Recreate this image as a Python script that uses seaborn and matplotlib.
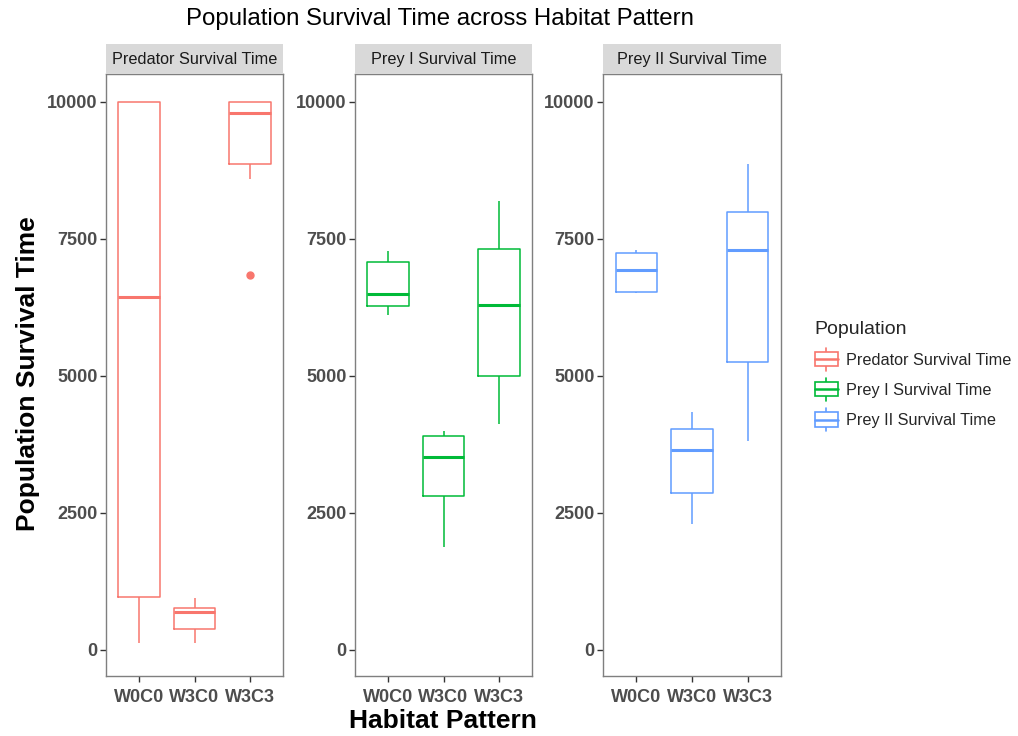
import numpy as np
import pandas as pd
import seaborn as sns
import matplotlib.pyplot as plt
from matplotlib.legend_handler import HandlerBase
from matplotlib.patches import Rectangle
from matplotlib.lines import Line2D

sns.set_theme(style="white")
plt.rcParams['font.family'] = ['Liberation Sans', 'DejaVu Sans']

# ---- data (each group reproduces its box stats) ----
habitats = ["W0C0", "W3C0", "W3C3"]
populations = ["Predator Survival Time", "Prey I Survival Time", "Prey II Survival Time"]
colors = ["#F8766D", "#00BA38", "#619CFF"]
y_ticks = [0, 2500, 5000, 7500, 10000]

pred_w0c0 = [126, 959, 6446, 10000, 10000]
pred_w3c0 = [126, 387, 691, 758, 952]
pred_w3c3 = [6833, 8602, 8862, 9300, 9807, 9900, 10000, 10000, 10000]

prey1_w0c0 = [6112, 6268, 6491, 7078, 7279]
prey1_w3c0 = [1874, 2810, 3509, 3896, 3993]
prey1_w3c3 = [4126, 5004, 6297, 7323, 8193]

prey2_w0c0 = [6506, 6535, 6937, 7249, 7294]
prey2_w3c0 = [2290, 2855, 3643, 4037, 4335]
prey2_w3c3 = [3814, 5257, 7294, 7993, 8870]

groups = {
    populations[0]: [pred_w0c0, pred_w3c0, pred_w3c3],
    populations[1]: [prey1_w0c0, prey1_w3c0, prey1_w3c3],
    populations[2]: [prey2_w0c0, prey2_w3c0, prey2_w3c3],
}
rows = []
for pop, lists in groups.items():
    for hab, vals in zip(habitats, lists):
        for v in vals:
            rows.append({"Population": pop, "Habitat": hab, "Time": v})
df = pd.DataFrame(rows)

# ---- layout ----
W, H = 1018, 736
fig = plt.figure(figsize=(W / 100, H / 100), dpi=100)
panel_x = [(106, 283), (355, 532), (603, 781)]
top, bottom = 74, 676
strip_top = 44
tick_color = "#4D4D4D"
border_color = "#7F7F7F"

for i, pop in enumerate(populations):
    x0, x1 = panel_x[i]
    ax = fig.add_axes([x0 / W, 1 - bottom / H, (x1 - x0) / W, (bottom - top) / H])
    sub = df[df["Population"] == pop]
    sns.boxplot(data=sub, x="Habitat", y="Time", order=habitats, ax=ax,
                width=0.75, whis=1.5, fill=False, color=colors[i], linewidth=1.1,
                showcaps=False,
                medianprops=dict(linewidth=2.2, color=colors[i]),
                flierprops=dict(marker="o", markerfacecolor=colors[i],
                                markeredgecolor=colors[i], markersize=5))
    ax.set_xlim(-0.6, 2.6)
    ax.set_ylim(-480, 10510)
    ax.set_yticks(y_ticks)
    ax.set_yticklabels([str(t) for t in y_ticks])
    ax.set_xlabel("")
    ax.set_ylabel("")
    ax.tick_params(axis="both", which="both", length=4, width=1, color="#333333",
                   labelsize=13, labelcolor=tick_color, pad=2, left=True, bottom=True)
    ax.tick_params(axis="x", pad=5)
    for lab in ax.get_xticklabels() + ax.get_yticklabels():
        lab.set_fontweight("bold")
    for s in ax.spines.values():
        s.set_color(border_color)
        s.set_linewidth(1)
    ax.grid(False)
    ax.set_facecolor("white")
    # strip
    sax = fig.add_axes([x0 / W, 1 - top / H, (x1 - x0) / W, (top - strip_top) / H])
    sax.set_facecolor("#D9D9D9")
    sax.set_xticks([])
    sax.set_yticks([])
    for s in sax.spines.values():
        s.set_visible(False)
    sax.text(0.5, 0.47, pop, ha="center", va="center", fontsize=11.7,
             color="#1A1A1A", transform=sax.transAxes)

fig.text(440 / W, 1 - 19 / H, "Population Survival Time across Habitat Pattern",
         ha="center", va="center", fontsize=17.3, color="black")
fig.text(28 / W, 1 - 374 / H, "Population Survival Time", rotation=90,
         ha="center", va="center", fontsize=19, fontweight="bold", color="black")
fig.text(443 / W, 1 - 721 / H, "Habitat Pattern", ha="center", va="center",
         fontsize=19, fontweight="bold", color="black")


class BoxKeyHandler(HandlerBase):
    def create_artists(self, legend, orig_handle, xdescent, ydescent, width, height,
                       fontsize, trans):
        c = orig_handle.get_color()
        bx0, bw = -xdescent, width
        by0, bh = -ydescent + height * 0.05, height * 0.9
        rect = Rectangle((bx0, by0), bw, bh, facecolor="white", edgecolor=c,
                         linewidth=1.2, transform=trans)
        mid = Line2D([bx0, bx0 + bw], [by0 + bh / 2] * 2, color=c, linewidth=1.8,
                     transform=trans)
        cx = bx0 + bw / 2
        w1 = Line2D([cx, cx], [by0 + bh, by0 + bh + height * 0.3], color=c,
                    linewidth=1.2, transform=trans)
        w2 = Line2D([cx, cx], [by0, by0 - height * 0.3], color=c, linewidth=1.2,
                    transform=trans)
        return [w1, w2, rect, mid]


handles = [Line2D([], [], color=c) for c in colors]
leg = fig.legend(handles, populations, handler_map={Line2D: BoxKeyHandler()},
                 loc="upper left", bbox_to_anchor=(800 / W, 1 - 306 / H),
                 title="Population", frameon=False, fontsize=11.7,
                 title_fontsize=14, handlelength=1.45, handleheight=1.1,
                 labelspacing=0.85, handletextpad=0.45, alignment="left")

fig.savefig("out.png", dpi=100, facecolor="white")
